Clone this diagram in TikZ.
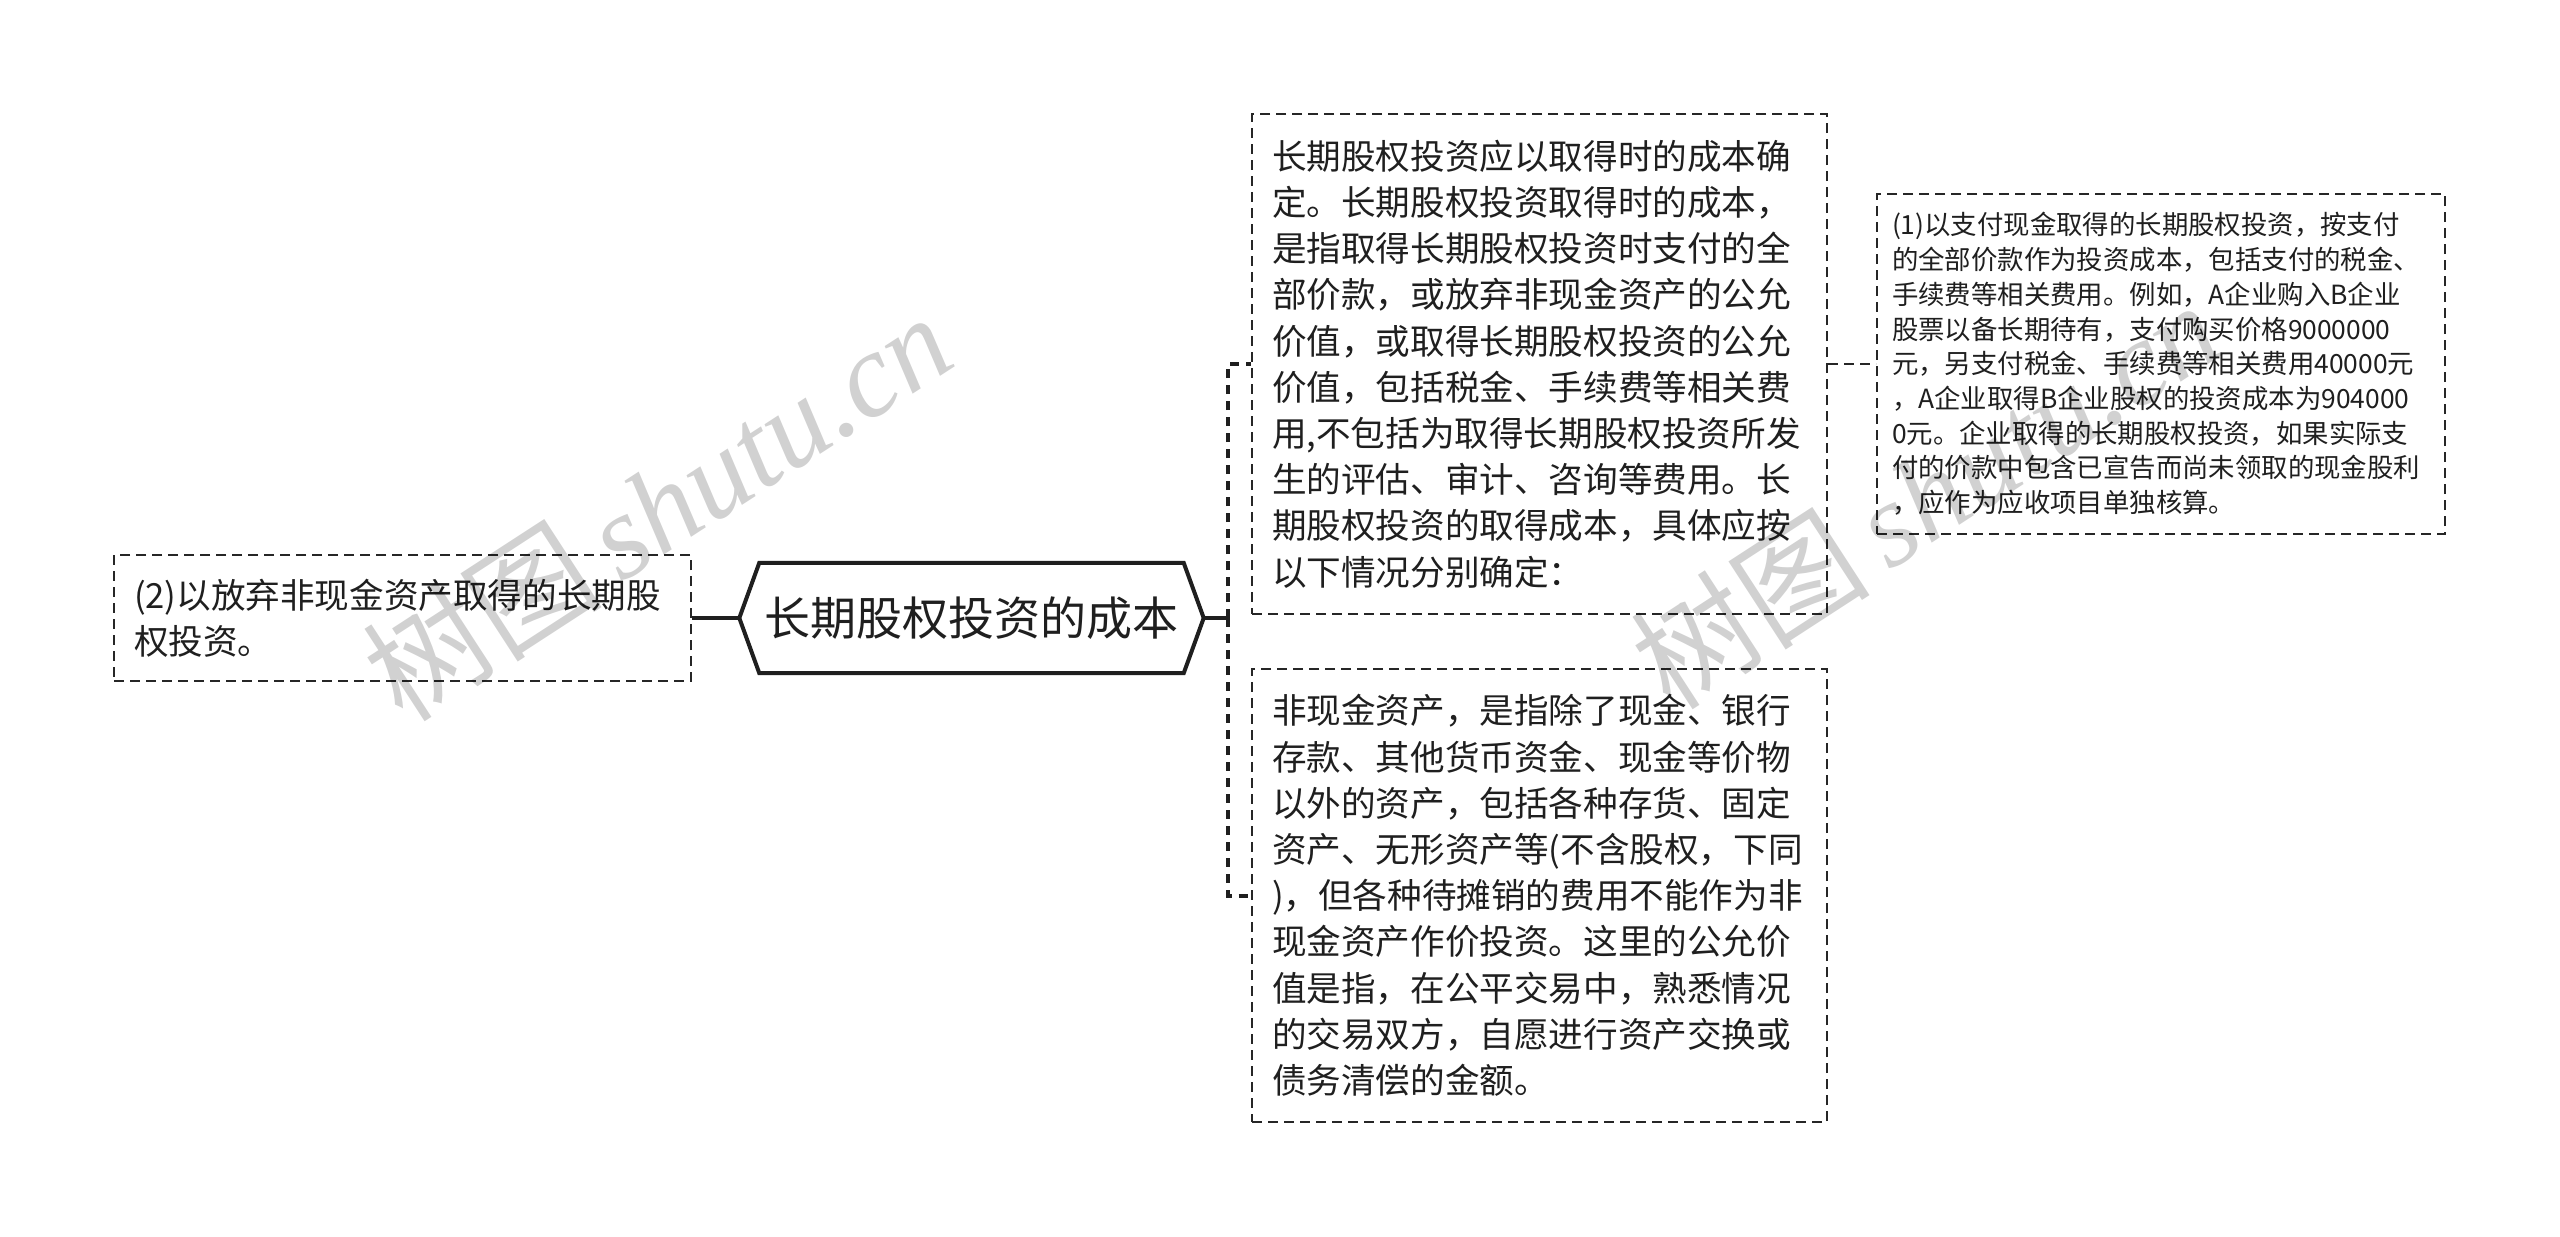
\documentclass[tikz,border=0pt]{standalone}
\usepackage{fontspec}
\setmainfont{Noto Sans CJK SC}
\newfontfamily\wmlatin{Liberation Serif}
\usetikzlibrary{calc}
\tikzset{
  dbox/.style={draw=black!85, line width=2pt, dash pattern=on 10pt off 6pt,
    align=left, inner ysep=0pt, text=black!88},
  bigtext/.style={font=\fontsize{34.6}{46.2}\selectfont},
  smalltext/.style={font=\fontsize{26.4}{34.7}\selectfont},
  hexline/.style={draw=black!88, line width=4pt, line join=miter},
  solidconn/.style={draw=black!88, line width=4pt},
  elbow/.style={draw=black!88, line width=4pt, dash pattern=on 9pt off 7pt},
  thinconn/.style={draw=black!85, line width=2pt, dash pattern=on 10pt off 6pt},
  wm/.style={text=black, text opacity=0.18, inner sep=0pt,
    font=\fontsize{120}{128}\selectfont}
}
\begin{document}
\begin{tikzpicture}[x=1pt,y=-1pt]
\useasboundingbox[fill=white] (0,0) rectangle (2560,1237);

% central node
\node[font=\fontsize{46}{52}\selectfont, text=black!88, minimum width=424pt,
  minimum height=110pt, inner sep=0pt] (c) at (971.5,618) {长期股权投资的成本};
\coordinate (cl) at ($(c.west)+(-20,0)$);
\coordinate (cr) at ($(c.east)+(20,0)$);
\draw[hexline] (c.north west) -- (c.north east) -- (cr) -- (c.south east)
  -- (c.south west) -- (cl) -- cycle;

% left node
\node[dbox, bigtext, inner xsep=20pt, text width=537pt, minimum width=577pt,
  minimum height=126pt] (l1) at (402.5,618)
  {(2)以放弃非现金资产取得的长期股\\权投资。};

% right top node
\node[dbox, bigtext, inner xsep=20pt, text width=535pt, minimum width=575pt,
  minimum height=500pt] (t1) at (1539.5,364)
  {长期股权投资应以取得时的成本确\\
定。长期股权投资取得时的成本，\\
是指取得长期股权投资时支付的全\\
部价款，或放弃非现金资产的公允\\
价值，或取得长期股权投资的公允\\
价值，包括税金、手续费等相关费\\
用,不包括为取得长期股权投资所发\\
生的评估、审计、咨询等费用。长\\
期股权投资的取得成本，具体应按\\
以下情况分别确定：};

% right bottom node
\node[dbox, bigtext, inner xsep=20pt, text width=535pt, minimum width=575pt,
  minimum height=453pt] (t2) at (1539.5,895.5)
  {非现金资产，是指除了现金、银行\\
存款、其他货币资金、现金等价物\\
以外的资产，包括各种存货、固定\\
资产、无形资产等(不含股权，下同\\
)，但各种待摊销的费用不能作为非\\
现金资产作价投资。这里的公允价\\
值是指，在公平交易中，熟悉情况\\
的交易双方，自愿进行资产交换或\\
债务清偿的金额。};

% far right node
\node[dbox, smalltext, inner xsep=15pt, text width=538pt, minimum width=568pt,
  minimum height=340pt] (t3) at (2161,364)
  {(1)以支付现金取得的长期股权投资，按支付\\
的全部价款作为投资成本，包括支付的税金、\\
手续费等相关费用。例如，A企业购入B企业\\
股票以备长期待有，支付购买价格9000000\\
元，另支付税金、手续费等相关费用40000元\\
，A企业取得B企业股权的投资成本为904000\\
0元。企业取得的长期股权投资，如果实际支\\
付的价款中包含已宣告而尚未领取的现金股利\\
，应作为应收项目单独核算。};

% connectors
\coordinate (j) at (1228,618);
\draw[solidconn] (l1.east) -- (cl);
\draw[solidconn] (cr) -- (j);
\draw[elbow] (j) |- (t1.west);
\draw[elbow] (j) |- (t2.west);
\draw[thinconn] (t1.east) -- (t3.west);

% watermarks
\node[wm, rotate=33] (wm1) at (657,506) {树图\,{\wmlatin\itshape shutu.cn}};
\node[wm, rotate=33] (wm2) at (1925,494) {树图\,{\wmlatin\itshape shutu.cn}};
\end{tikzpicture}
\end{document}
